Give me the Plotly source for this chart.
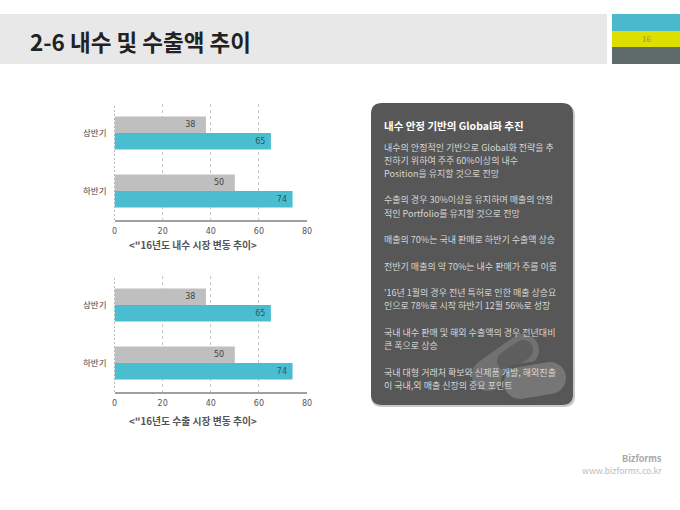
import math
import plotly.graph_objects as go

W, H = 680, 510
FONT = "Noto Sans CJK KR"
NUM_FONT = "DejaVu Sans"

# data
periods = ["상반기", "하반기"]
domestic_gray = [38, 50]
domestic_teal = [65, 74]
export_gray = [38, 50]
export_teal = [65, 74]
x_ticks = [0, 20, 40, 60, 80]

panel_title = "내수 안정 기반의 Global화 추진"
panel_lines = [
    ("내수의 안정적인 기반으로 Global화 전략을 추", 147),
    ("진하기 위하여 주주 60%이상의 내수", 160),
    ("Position을 유지할 것으로 전망", 173),
    ("수출의 경우 30%이상을 유지하며 매출의 안정", 200),
    ("적인 Portfolio를 유지할 것으로 전망", 213),
    ("매출의 70%는 국내 판매로 하반기 수출액 상승", 239),
    ("전반기 매출의 약 70%는 내수 판매가 주를 이룸", 266),
    ("'16년 1월의 경우 전년 특허로 인한 매출 상승요", 292),
    ("인으로 78%로 시작 하반기 12월 56%로 성장", 305),
    ("국내 내수 판매 및 해외 수출액의 경우 전년대비", 332),
    ("큰 폭으로 상승", 345),
    ("국내 대형 거래처 확보와 신제품 개발, 해외진출", 372),
    ("이 국내,외 매출 신장의 중요 포인트", 385),
]


def px(x):
    return x / W


def py(y):
    return 1 - y / H


def rect(x0, y0, x1, y1, color):
    return dict(type="rect", xref="paper", yref="paper", layer="below",
                x0=px(x0), x1=px(x1), y0=py(y0), y1=py(y1),
                fillcolor=color, line=dict(width=0))


def round_rect(x0, y0, x1, y1, r, color):
    p = (f"M {px(x0 + r)} {py(y0)} L {px(x1 - r)} {py(y0)} "
         f"Q {px(x1)} {py(y0)} {px(x1)} {py(y0 + r)} L {px(x1)} {py(y1 - r)} "
         f"Q {px(x1)} {py(y1)} {px(x1 - r)} {py(y1)} L {px(x0 + r)} {py(y1)} "
         f"Q {px(x0)} {py(y1)} {px(x0)} {py(y1 - r)} L {px(x0)} {py(y0 + r)} "
         f"Q {px(x0)} {py(y0)} {px(x0 + r)} {py(y0)} Z")
    return dict(type="path", xref="paper", yref="paper", layer="below", path=p,
                fillcolor=color, line=dict(width=0))


def capsule(ax, ay, bx, by, r, color):
    # pill outline: straight sides plus a rounded end around each centre
    d = math.hypot(bx - ax, by - ay)
    tx, ty = (bx - ax) / d, (by - ay) / d
    nx, ny = -ty, tx
    k = 0.5523 * r

    def pt(cx, cy, a, b):
        return f"{px(cx + a * tx * r + b * nx * r)} {py(cy + a * ty * r + b * ny * r)}"

    def ctl(cx, cy, a, b):
        return f"{px(cx + a * tx + b * nx)} {py(cy + a * ty + b * ny)}"

    p = (f"M {pt(ax, ay, 0, 1)} L {pt(bx, by, 0, 1)} "
         f"C {ctl(bx, by, k, r)} {ctl(bx, by, r, k)} {pt(bx, by, 1, 0)} "
         f"C {ctl(bx, by, r, -k)} {ctl(bx, by, k, -r)} {pt(bx, by, 0, -1)} "
         f"L {pt(ax, ay, 0, -1)} "
         f"C {ctl(ax, ay, -k, -r)} {ctl(ax, ay, -r, -k)} {pt(ax, ay, -1, 0)} "
         f"C {ctl(ax, ay, -r, k)} {ctl(ax, ay, -k, r)} {pt(ax, ay, 0, 1)} Z")
    return dict(type="path", xref="paper", yref="paper", layer="below", path=p,
                fillcolor=color, line=dict(width=0))


def text(x, y, s, size, color, anchor="left", bold=False):
    return dict(xref="paper", yref="paper", x=px(x), y=py(y), text=f"<b>{s}</b>" if bold else s,
                showarrow=False, xanchor=anchor, yanchor="middle",
                font=dict(family=FONT, size=size, color=color))


def add_bars(fig, gray, teal, xa, ya):
    for vals, color, txt, pad in [(gray, "#bfbfbf", "#444444", "\u00a0\u00a0\u00a0"),
                                  (teal, "#4bbdd0", "#2f5560", "\u00a0")]:
        fig.add_trace(go.Bar(y=periods, x=vals, orientation="h", marker=dict(color=color, line=dict(width=0)),
                             text=vals, texttemplate="%{x}" + pad, textposition="inside",
                             insidetextanchor="end", textangle=0,
                             textfont=dict(family=NUM_FONT, size=8, color=txt),
                             xaxis=xa, yaxis=ya, showlegend=False))


fig = go.Figure()
add_bars(fig, domestic_gray, domestic_teal, "x", "y")
add_bars(fig, export_gray, export_teal, "x2", "y2")

# automargin off: the default template would otherwise shrink the paper area
xaxis_style = dict(range=[0, 80], tickvals=x_ticks, showgrid=True, griddash="3px,3px", gridcolor="#c8c8c8",
                   gridwidth=1, zeroline=False, showline=True, linecolor="#a0a0a0", linewidth=1.5,
                   ticks="", ticklabelstandoff=3, automargin=False,
                   tickfont=dict(family=NUM_FONT, size=8, color="#555555"))
yaxis_style = dict(autorange="reversed", showgrid=False, zeroline=False, showline=False, ticks="",
                   ticklabelstandoff=7, automargin=False,
                   tickfont=dict(family=FONT, size=8.5, color="#444444"))

fig.update_layout(
    width=W, height=H, margin=dict(l=0, r=0, t=0, b=0), autosize=False,
    paper_bgcolor="white", plot_bgcolor="rgba(0,0,0,0)",
    barmode="group", bargap=0.43, bargroupgap=0,
    xaxis=dict(xaxis_style, domain=[px(114.5), px(307)], anchor="y"),
    yaxis=dict(yaxis_style, domain=[py(220), py(104)], anchor="x"),
    xaxis2=dict(xaxis_style, domain=[px(114.5), px(307)], anchor="y2"),
    yaxis2=dict(yaxis_style, domain=[py(392), py(276)], anchor="x2"),
)

shapes = [
    rect(0, 14, 607, 64, "#e8e8e8"),
    rect(612, 14, 680, 31, "#4bb9cd"),
    rect(612, 31, 680, 47, "#dcdf00"),
    rect(612, 47, 680, 64, "#5f6b6b"),
    round_rect(371, 105, 575, 407, 11, "#c8c8c8"),
    round_rect(371, 103, 573, 405, 11, "#575757"),
    # pill icon on the panel
    capsule(488, 375, 523, 350, 16, "#717171"),
    capsule(507, 361, 523, 350, 10, "#5e5e5e"),
    capsule(520, 383, 550, 378, 19, "#575757"),
    capsule(520, 383, 550, 378, 16, "#767676"),
    # dotted baseline at zero for both charts
    dict(type="line", xref="x", yref="y domain", x0=0, x1=0, y0=0, y1=1, layer="above",
         line=dict(color="#808080", width=1, dash="2px,2px")),
    dict(type="line", xref="x2", yref="y2 domain", x0=0, x1=0, y0=0, y1=1, layer="above",
         line=dict(color="#808080", width=1, dash="2px,2px")),
]
fig.update_layout(shapes=shapes)

annotations = [
    text(28, 41, "2-6 내수 및 수출액 추이", 22.5, "#222222", bold=True),
    text(646, 39, "16", 8, "#9a9a30", anchor="center"),
    text(127, 245, '&lt;"16년도 내수 시장 변동 추이&gt;', 9.8, "#555555", bold=True),
    text(127, 421, '&lt;"16년도 수출 시장 변동 추이&gt;', 9.8, "#555555", bold=True),
    text(382, 125, panel_title, 10.5, "#ffffff", bold=True),
    text(664, 458, "Bizforms", 9, "#a8a8a8", anchor="right", bold=True),
    text(664, 470, "www.bizforms.co.kr", 8.6, "#bcbcbc", anchor="right"),
]
for line, y in panel_lines:
    annotations.append(text(382, y, line, 9, "#d6d6d6"))
fig.update_layout(annotations=annotations)

# the page body has a default margin that would push the figure off its place
fig.write_html("out.html", config=dict(displayModeBar=False),
               post_script="document.body.style.margin='0';")
